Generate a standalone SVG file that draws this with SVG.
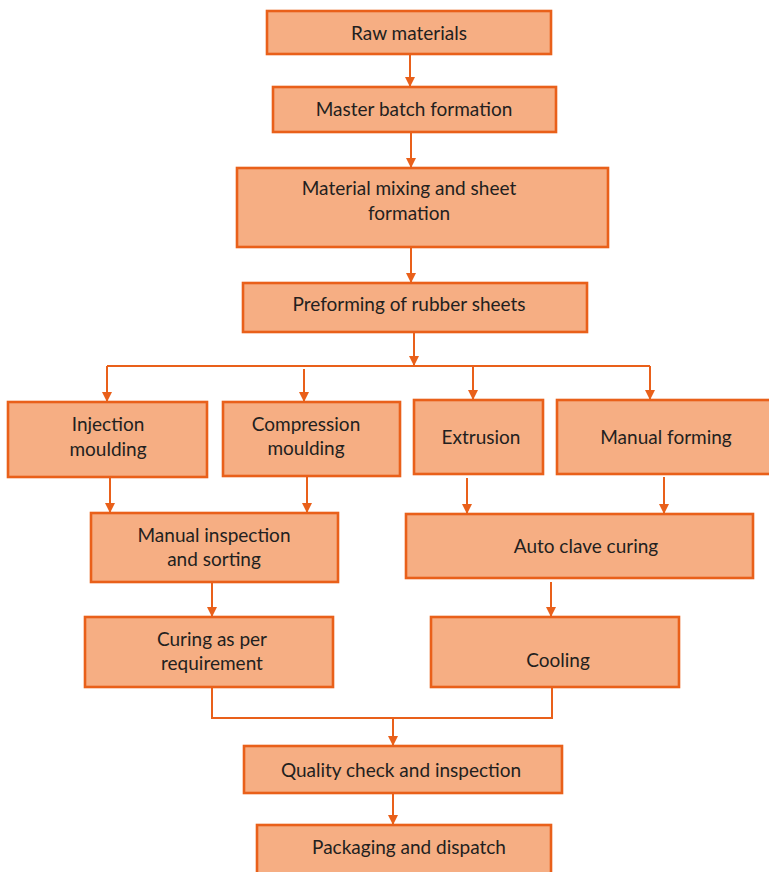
<svg xmlns="http://www.w3.org/2000/svg" width="769" height="872" viewBox="0 0 769 872">
<defs>
<style>
.box{fill:#F6AE83;stroke:#E9601A;stroke-width:2.6}
.t{font-family:Lato,"Liberation Sans",sans-serif;font-size:19px;fill:#231F20;text-anchor:middle}
.c{fill:none;stroke:#E9601A;stroke-width:2}
</style>
<marker id="ah" viewBox="0 0 10 10" refX="10" refY="5" markerWidth="10" markerHeight="11" markerUnits="userSpaceOnUse" orient="auto">
<path d="M0,0 L10,5 L0,10 z" fill="#E9601A"/>
</marker>
</defs>
<rect width="769" height="872" fill="#FFFFFF"/>
<g id="connectors">
<line class="c" x1="410" y1="54" x2="410" y2="87" marker-end="url(#ah)"/>
<line class="c" x1="411" y1="132" x2="411" y2="168" marker-end="url(#ah)"/>
<line class="c" x1="411" y1="247" x2="411" y2="283" marker-end="url(#ah)"/>
<line class="c" x1="414" y1="332" x2="414" y2="366" marker-end="url(#ah)"/>
<line class="c" x1="107" y1="366" x2="650" y2="366"/>
<line class="c" x1="107" y1="366" x2="107" y2="402" marker-end="url(#ah)"/>
<line class="c" x1="304" y1="369" x2="304" y2="402" marker-end="url(#ah)"/>
<line class="c" x1="473" y1="366" x2="473" y2="400" marker-end="url(#ah)"/>
<line class="c" x1="650" y1="366" x2="650" y2="400" marker-end="url(#ah)"/>
<line class="c" x1="110" y1="478" x2="110" y2="513" marker-end="url(#ah)"/>
<line class="c" x1="307" y1="477" x2="307" y2="513" marker-end="url(#ah)"/>
<line class="c" x1="467" y1="478" x2="467" y2="514" marker-end="url(#ah)"/>
<line class="c" x1="664" y1="477" x2="664" y2="514" marker-end="url(#ah)"/>
<line class="c" x1="212" y1="582" x2="212" y2="617" marker-end="url(#ah)"/>
<line class="c" x1="551" y1="582" x2="551" y2="617" marker-end="url(#ah)"/>
<polyline class="c" points="212,687 212,718 552,718 552,687"/>
<line class="c" x1="393" y1="718" x2="393" y2="746" marker-end="url(#ah)"/>
<line class="c" x1="393" y1="793" x2="393" y2="825" marker-end="url(#ah)"/>
</g>
<g id="raw-materials"><rect class="box" x="267" y="11" width="284" height="43"/><text class="t" x="409" y="40">Raw materials</text></g>
<g id="master-batch"><rect class="box" x="273" y="87" width="283" height="45"/><text class="t" x="414" y="116">Master batch formation</text></g>
<g id="material-mixing"><rect class="box" x="237" y="168" width="371" height="79"/><text class="t" x="409" y="195">Material mixing and sheet</text><text class="t" x="409" y="220">formation</text></g>
<g id="preforming"><rect class="box" x="243" y="283" width="344" height="49"/><text class="t" x="409" y="311">Preforming of rubber sheets</text></g>
<g id="injection"><rect class="box" x="8" y="402" width="199" height="75"/><text class="t" x="108" y="431">Injection</text><text class="t" x="108" y="456">moulding</text></g>
<g id="compression"><rect class="box" x="223" y="402" width="177" height="74"/><text class="t" x="306" y="431">Compression</text><text class="t" x="306" y="455">moulding</text></g>
<g id="extrusion"><rect class="box" x="414" y="400" width="129" height="74"/><text class="t" x="481" y="444">Extrusion</text></g>
<g id="manual-forming"><rect class="box" x="557" y="400" width="215" height="74"/><text class="t" x="666" y="444">Manual forming</text></g>
<g id="manual-inspection"><rect class="box" x="91" y="513" width="247" height="69"/><text class="t" x="214" y="542">Manual inspection</text><text class="t" x="214" y="566">and sorting</text></g>
<g id="auto-clave"><rect class="box" x="406" y="514" width="347" height="64"/><text class="t" x="586" y="553">Auto clave curing</text></g>
<g id="curing"><rect class="box" x="85" y="617" width="248" height="70"/><text class="t" x="212" y="646">Curing as per</text><text class="t" x="212" y="670">requirement</text></g>
<g id="cooling"><rect class="box" x="431" y="617" width="248" height="70"/><text class="t" x="558" y="667">Cooling</text></g>
<g id="quality-check"><rect class="box" x="244" y="746" width="318" height="47"/><text class="t" x="401" y="777">Quality check and inspection</text></g>
<g id="packaging"><rect class="box" x="257" y="825" width="294" height="60"/><text class="t" x="409" y="854">Packaging and dispatch</text></g>
</svg>
